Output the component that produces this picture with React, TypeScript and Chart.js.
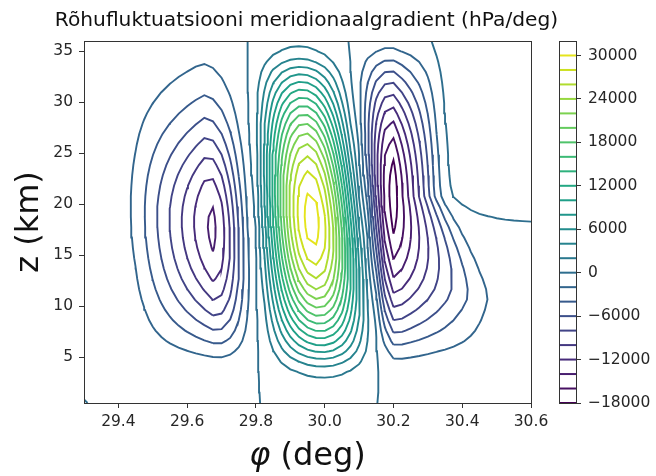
import { useEffect, useRef } from "react";
import { Chart, registerables } from "chart.js";

Chart.register(...registerables);

// ---- axes ----
const TITLE = "Rõhufluktuatsiooni meridionaalgradient (hPa/deg)";
const X_SYMBOL = "φ";
const X_UNIT = " (deg)";
const Y_LABEL = "z (km)";
const phiMin = 29.3;
const phiMax = 30.6;
const zMin = 0.5;
const zMax = 36;
const xTicks = [29.4, 29.6, 29.8, 30.0, 30.2, 30.4, 30.6];
const yTicks = [5, 10, 15, 20, 25, 30, 35];

// ---- contour levels (hPa/deg) and colour bar ----
const levels = [
  -18000, -16000, -14000, -12000, -10000, -8000, -6000, -4000, -2000, 0, 2000, 4000, 6000,
  8000, 10000, 12000, 14000, 16000, 18000, 20000, 22000, 24000, 26000, 28000, 30000,
];
const cbarTicks = [-18000, -12000, -6000, 0, 6000, 12000, 18000, 24000, 30000];
const cbarMin = -18000;
const cbarMax = 32000;

// ---- the three main cells: west (negative), central (positive), east (negative) ----
const cellAmp = [-14600, 31000, -19200];
const cellPeakPhi = [29.6665, 29.963, 30.2017];
const cellPeakZ = [17.8, 18.4, 20.9];
const cellTilt = [-0.0015, -0.0023, -0.0005]; // deg per km
const cellHalfZLow = [14, 15.5, 17];
const cellHalfZHigh = [8, 17.2, 15.3];
const cellEdgePower = [1.5, 1.3, 1.3];
// zero lines separating the cells: [phi at zMin, phi at zMax]
const zeroWestPhi = [29.818, 29.777];
const zeroEastPhi = [30.17, 30.068];
// outer flanks (deg)
const westFlankWidth = 0.26;
const eastFlankWidth = 0.149;
const eastFlankSpread = 0.016; // widening per km below the east peak
const eastFlankSpreadDepth = 10; // km over which the widening applies

// ---- weak features ----
const shoulderAmp = -400;
const shoulderPhi = 30.55;
const shoulderZ = 8;
const shoulderSigPhi = 0.2;
const shoulderSigZ = 8;
const cornerAmp = 1500;
const cornerEdgePhi = 30.342;
const cornerEdgeZ = 20.2;
const cornerSoftPhi = 0.02;
const cornerSoftZ = 0.9;
const speckAmp = 1.0;
const speckPhi = 29.3;
const speckZ = 0.5;

// sampling grid of the field
const phiStep = 0.025;
const zCount = 36;

const viridisStops = [
  "#440154", "#48186a", "#472d7b", "#424086", "#3b528b", "#33638d", "#2c728e", "#26828e",
  "#21918c", "#1fa088", "#28ae80", "#3fbc73", "#5ec962", "#84d44b", "#addc30", "#d8e219", "#fde725",
];

const FONT = '"DejaVu Sans", "Liberation Sans", sans-serif';
const INK = "#262626";

function hexRgb(h: string) {
  return [parseInt(h.slice(1, 3), 16), parseInt(h.slice(3, 5), 16), parseInt(h.slice(5, 7), 16)];
}

function viridis(t: number) {
  const u = Math.min(1, Math.max(0, t)) * (viridisStops.length - 1);
  const i = Math.min(viridisStops.length - 2, Math.floor(u));
  const f = u - i;
  const a = hexRgb(viridisStops[i]);
  const b = hexRgb(viridisStops[i + 1]);
  const c = a.map((v, k) => Math.round(v + (b[k] - v) * f));
  return `rgb(${c[0]},${c[1]},${c[2]})`;
}

function levelColor(v: number) {
  return viridis((v - cbarMin) / (cbarMax - cbarMin));
}

function lineAt(pair: number[], z: number) {
  return pair[0] + ((pair[1] - pair[0]) * (z - zMin)) / (zMax - zMin);
}

function sinSide(t: number, k: number) {
  if (t <= 0) return 0;
  if (t >= 1) return 1;
  return Math.pow(Math.sin((Math.PI / 2) * t), k);
}

// linear flank with an exponential tail beyond 80 % of its width
function flank(d: number, width: number) {
  const u = Math.abs(d) / width;
  if (u <= 0.8) return 1 - u;
  return 0.2 * Math.exp(-(u - 0.8) / 0.2);
}

// half-cosine with an exponential tail beyond 90 % of the half-width
function cosTail(u: number) {
  const u1 = 0.9;
  if (u <= u1) return Math.cos((Math.PI / 2) * u);
  const h1 = Math.cos((Math.PI / 2) * u1);
  const k = ((Math.PI / 2) * Math.sin((Math.PI / 2) * u1)) / h1;
  return h1 * Math.exp(-k * (u - u1));
}

function vertical(i: number, z: number) {
  const dz = z - cellPeakZ[i];
  if (dz < 0) return cosTail(-dz / cellHalfZLow[i]);
  if (i === 0) return Math.exp(-0.5 * (dz / cellHalfZHigh[i]) ** 2);
  return cosTail(dz / cellHalfZHigh[i]);
}

function logistic(x: number) {
  return 1 / (1 + Math.exp(-x));
}

function fieldAt(phi: number, z: number) {
  const w = lineAt(zeroWestPhi, z);
  const e = lineAt(zeroEastPhi, z);
  const m = cellPeakPhi.map((p, i) => p + cellTilt[i] * (z - cellPeakZ[i]));

  let gW = 0;
  if (phi <= m[0]) gW = flank(m[0] - phi, westFlankWidth);
  else if (phi < w) gW = sinSide((w - phi) / (w - m[0]), cellEdgePower[0]);

  let gC = 0;
  if (phi > w && phi <= m[1]) gC = sinSide((phi - w) / (m[1] - w), cellEdgePower[1]);
  else if (phi > m[1] && phi < e) gC = sinSide((e - phi) / (e - m[1]), cellEdgePower[1]);

  let gE = 0;
  if (phi > e && phi <= m[2]) gE = sinSide((phi - e) / (m[2] - e), cellEdgePower[2]);
  else if (phi > m[2]) {
    const below = Math.min(eastFlankSpreadDepth, Math.max(0, cellPeakZ[2] - z));
    gE = flank(phi - m[2], eastFlankWidth + eastFlankSpread * below);
  }

  let v =
    cellAmp[0] * vertical(0, z) * gW +
    cellAmp[1] * vertical(1, z) * gC +
    cellAmp[2] * vertical(2, z) * gE;

  v +=
    shoulderAmp *
    Math.exp(-0.5 * ((phi - shoulderPhi) / shoulderSigPhi) ** 2 - 0.5 * ((z - shoulderZ) / shoulderSigZ) ** 2);
  v += cornerAmp * logistic((phi - cornerEdgePhi) / cornerSoftPhi) * logistic((z - cornerEdgeZ) / cornerSoftZ);
  v += speckAmp * Math.exp(-0.5 * ((phi - speckPhi) / 0.008) ** 2 - 0.5 * ((z - speckZ) / 0.4) ** 2);
  return v;
}

type Pt = { x: number; y: number };

// marching squares for one level, segments chained into polylines
function traceLevel(xs: number[], ys: number[], g: number[][], lev: number): Pt[][] {
  const pts = new Map<string, Pt>();
  const segs: [string, string][] = [];
  const nx = xs.length;
  const ny = ys.length;
  const hEdge = (i: number, j: number): [string, Pt] => {
    const a = g[j][i];
    const b = g[j][i + 1];
    const t = (lev - a) / (b - a);
    return [`h${i}_${j}`, { x: xs[i] + t * (xs[i + 1] - xs[i]), y: ys[j] }];
  };
  const vEdge = (i: number, j: number): [string, Pt] => {
    const a = g[j][i];
    const b = g[j + 1][i];
    const t = (lev - a) / (b - a);
    return [`v${i}_${j}`, { x: xs[i], y: ys[j] + t * (ys[j + 1] - ys[j]) }];
  };
  for (let j = 0; j < ny - 1; j++) {
    for (let i = 0; i < nx - 1; i++) {
      const bl = g[j][i];
      const br = g[j][i + 1];
      const tr = g[j + 1][i + 1];
      const tl = g[j + 1][i];
      const code = (bl > lev ? 1 : 0) | (br > lev ? 2 : 0) | (tr > lev ? 4 : 0) | (tl > lev ? 8 : 0);
      if (code === 0 || code === 15) continue;
      const centreHigh = (bl + br + tr + tl) / 4 > lev;
      let pairs: number[][] = [];
      switch (code) {
        case 1: pairs = [[3, 0]]; break;
        case 2: pairs = [[0, 1]]; break;
        case 3: pairs = [[3, 1]]; break;
        case 4: pairs = [[1, 2]]; break;
        case 5: pairs = centreHigh ? [[0, 1], [2, 3]] : [[3, 0], [1, 2]]; break;
        case 6: pairs = [[0, 2]]; break;
        case 7: pairs = [[3, 2]]; break;
        case 8: pairs = [[2, 3]]; break;
        case 9: pairs = [[0, 2]]; break;
        case 10: pairs = centreHigh ? [[3, 0], [1, 2]] : [[0, 1], [2, 3]]; break;
        case 11: pairs = [[1, 2]]; break;
        case 12: pairs = [[1, 3]]; break;
        case 13: pairs = [[0, 1]]; break;
        case 14: pairs = [[3, 0]]; break;
      }
      const edge = (k: number) =>
        k === 0 ? hEdge(i, j) : k === 1 ? vEdge(i + 1, j) : k === 2 ? hEdge(i, j + 1) : vEdge(i, j);
      for (const [a, b] of pairs) {
        const [ka, pa] = edge(a);
        const [kb, pb] = edge(b);
        pts.set(ka, pa);
        pts.set(kb, pb);
        segs.push([ka, kb]);
      }
    }
  }
  const byKey = new Map<string, number[]>();
  segs.forEach((s, idx) => {
    for (const k of s) {
      const l = byKey.get(k);
      if (l) l.push(idx);
      else byKey.set(k, [idx]);
    }
  });
  const used = new Array(segs.length).fill(false);
  const next = (k: string) => {
    for (const idx of byKey.get(k) || []) {
      if (!used[idx]) {
        used[idx] = true;
        const s = segs[idx];
        return s[0] === k ? s[1] : s[0];
      }
    }
    return null;
  };
  const lines: Pt[][] = [];
  for (let s0 = 0; s0 < segs.length; s0++) {
    if (used[s0]) continue;
    used[s0] = true;
    const keys = [segs[s0][0], segs[s0][1]];
    let k: string | null;
    while ((k = next(keys[keys.length - 1])) !== null) keys.push(k);
    while ((k = next(keys[0])) !== null) keys.unshift(k);
    lines.push(keys.map((kk) => pts.get(kk) as Pt));
  }
  return lines;
}

function buildContours() {
  const xs: number[] = [];
  const nPhi = Math.round((phiMax - phiMin) / phiStep);
  for (let i = 0; i <= nPhi; i++) xs.push(phiMin + i * phiStep);
  const ys: number[] = [];
  for (let j = 0; j < zCount; j++) ys.push(zMin + (j * (zMax - zMin)) / (zCount - 1));
  const g = ys.map((z) => xs.map((p) => fieldAt(p, z)));
  const datasets: any[] = [];
  for (const lev of levels) {
    for (const line of traceLevel(xs, ys, g, lev)) {
      datasets.push({
        data: line,
        showLine: true,
        borderColor: levelColor(lev),
        borderWidth: 1.9,
        pointRadius: 0,
        pointHoverRadius: 0,
        fill: false,
        tension: 0,
      });
    }
  }
  return datasets;
}

const framePlugin = {
  id: "frame",
  afterDraw(chart: any) {
    const { ctx, chartArea: a } = chart;
    ctx.save();
    ctx.strokeStyle = "#333";
    ctx.lineWidth = 1;
    ctx.strokeRect(
      Math.round(a.left) + 0.5,
      Math.round(a.top) + 0.5,
      Math.round(a.right - a.left),
      Math.round(a.bottom - a.top)
    );
    ctx.restore();
  },
};

const AXIS_LABEL_SIZE = 32;
const TITLE_SIZE = 20.2;

// figure title, centred over the plot; it is wider than the plot and runs toward the colour bar
const titlePlugin = {
  id: "figTitle",
  afterDraw(chart: any) {
    const { ctx, chartArea: a } = chart;
    ctx.save();
    ctx.font = `${TITLE_SIZE}px ${FONT}`;
    ctx.fillStyle = "#111";
    ctx.textAlign = "center";
    ctx.textBaseline = "middle";
    ctx.fillText(TITLE, (a.left + a.right) / 2 - 1, a.top - 20);
    ctx.restore();
  },
};

const phiLabelPlugin = {
  id: "phiLabel",
  afterDraw(chart: any) {
    const { ctx, chartArea: a } = chart;
    ctx.save();
    const italic = `italic ${AXIS_LABEL_SIZE}px ${FONT}`;
    const upright = `${AXIS_LABEL_SIZE}px ${FONT}`;
    ctx.font = italic;
    const w1 = ctx.measureText(X_SYMBOL).width;
    ctx.font = upright;
    const w2 = ctx.measureText(X_UNIT).width;
    const x0 = (a.left + a.right) / 2 - (w1 + w2) / 2;
    const y = a.bottom + 54;
    ctx.fillStyle = "#111";
    ctx.textAlign = "left";
    ctx.textBaseline = "middle";
    ctx.font = italic;
    ctx.fillText(X_SYMBOL, x0, y);
    ctx.font = upright;
    ctx.fillText(X_UNIT, x0 + w1, y);
    ctx.restore();
  },
};

const tickFont = { family: FONT, size: 15.5 };

export default function App() {
  const mainRef = useRef<HTMLCanvasElement>(null);
  const barRef = useRef<HTMLCanvasElement>(null);

  useEffect(() => {
    const main = new Chart(mainRef.current as HTMLCanvasElement, {
      type: "scatter",
      data: { datasets: buildContours() },
      options: {
        animation: false,
        responsive: false,
        events: [],
        layout: { padding: { left: 0, right: 125, top: 41, bottom: 0 } },
        plugins: {
          legend: { display: false },
          tooltip: { enabled: false },
          title: { display: false },
        },
        scales: {
          x: {
            type: "linear",
            min: phiMin,
            max: phiMax,
            afterBuildTicks: (s: any) => {
              s.ticks = xTicks.map((v) => ({ value: v }));
            },
            afterFit: (s: any) => {
              s.height = 73;
            },
            ticks: {
              autoSkip: false,
              maxRotation: 0,
              color: INK,
              font: tickFont,
              padding: 5,
              callback: (v: any) => Number(v).toFixed(1),
            },
            grid: { drawOnChartArea: false, tickLength: 5, color: "#333" },
            border: { display: false },
          },
          y: {
            type: "linear",
            min: zMin,
            max: zMax,
            afterBuildTicks: (s: any) => {
              s.ticks = yTicks.map((v) => ({ value: v }));
            },
            afterFit: (s: any) => {
              s.width = 84;
            },
            ticks: {
              autoSkip: false,
              color: INK,
              font: tickFont,
              padding: 6,
              callback: (v: any) => String(v),
            },
            grid: { drawOnChartArea: false, tickLength: 5, color: "#333" },
            border: { display: false },
            title: {
              display: true,
              text: Y_LABEL,
              color: "#111",
              font: { family: FONT, size: AXIS_LABEL_SIZE, weight: "normal" },
              padding: { top: 10.5, bottom: 0 },
            },
          },
        },
      } as any,
      plugins: [framePlugin, titlePlugin, phiLabelPlugin],
    });

    const bar = new Chart(barRef.current as HTMLCanvasElement, {
      type: "scatter",
      data: {
        datasets: levels.map((lev) => ({
          data: [
            { x: 0, y: lev },
            { x: 1, y: lev },
          ],
          showLine: true,
          borderColor: levelColor(lev),
          borderWidth: 2,
          pointRadius: 0,
          clip: false,
        })),
      },
      options: {
        animation: false,
        responsive: false,
        events: [],
        layout: { padding: { left: 559, right: 0, top: 41, bottom: 73 } },
        plugins: { legend: { display: false }, tooltip: { enabled: false } },
        scales: {
          x: { type: "linear", display: false, min: 0, max: 1 },
          y: {
            type: "linear",
            position: "right",
            min: cbarMin,
            max: cbarMax,
            afterBuildTicks: (s: any) => {
              s.ticks = cbarTicks.map((v) => ({ value: v }));
            },
            afterFit: (s: any) => {
              s.width = 80;
            },
            ticks: {
              autoSkip: false,
              color: INK,
              font: tickFont,
              padding: 7,
              callback: (v: any) => (Number(v) < 0 ? "\u2212" + Math.abs(Number(v)) : String(v)),
            },
            grid: { drawOnChartArea: false, tickLength: 5, color: "#333" },
            border: { display: false },
          },
        },
      } as any,
      plugins: [framePlugin],
    });

    return () => {
      main.destroy();
      bar.destroy();
    };
  }, []);

  const canvasStyle: any = { position: "absolute", left: 0, top: 0, width: 656, height: 476 };
  return (
    <div style={{ position: "absolute", left: 0, top: 0, width: 656, height: 476, background: "#fff" }}>
      <canvas ref={mainRef} width={656} height={476} style={canvasStyle} />
      <canvas ref={barRef} width={656} height={476} style={canvasStyle} />
    </div>
  );
}
